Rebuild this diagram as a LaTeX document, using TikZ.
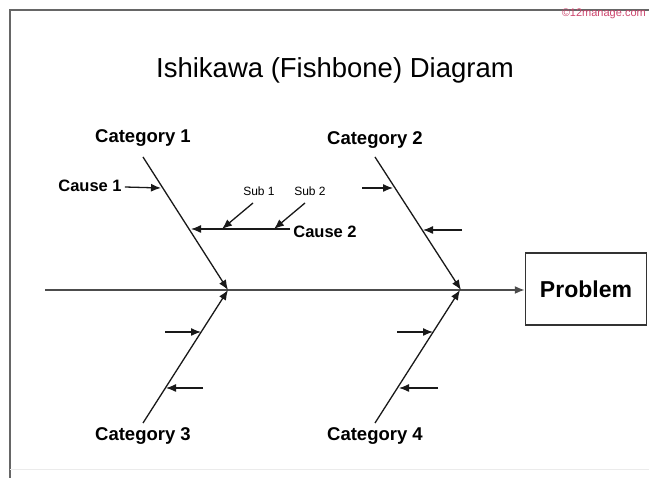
\documentclass[tikz,border=0pt]{standalone}
\usepackage{fontspec}
\setmainfont{Liberation Sans}
\usetikzlibrary{arrows.meta}
\definecolor{wm}{RGB}{205,70,110}
\begin{document}
\begin{tikzpicture}[x=1pt,y=-1pt,
  bone/.style={line width=1.3pt,draw=black!90,-{Latex[length=10pt,width=8pt]}},
  cat/.style={font=\bfseries\fontsize{18.5}{20}\selectfont,inner sep=0pt},
  cause/.style={font=\bfseries\fontsize{16.5}{18}\selectfont,inner sep=0pt},
  sub/.style={font=\fontsize{12}{14}\selectfont,inner sep=0pt}]
\useasboundingbox (0,0) rectangle (649,478);
\fill[white] (0,0) rectangle (649,478);
% frame
\draw[black!60,line width=2pt] (9.5,478) -- (9.5,10.5) -- (649,10.5);
\draw[black!8,line width=1pt] (10,470) -- (649,470);
% watermark and title
\node[font=\fontsize{11}{13}\selectfont,text=wm,inner sep=0pt,anchor=east] (wmark) at (646,14) {©12manage.com};
\node[font=\fontsize{27.5}{30}\selectfont,inner sep=0pt] (title) at (335,70) {Ishikawa (Fishbone) Diagram};
% problem and spine
\node[draw=black!80,line width=1.5pt,minimum width=121pt,minimum height=72pt,inner sep=0pt,
  font=\bfseries\fontsize{23}{26}\selectfont] (prob) at (586,289) {Problem};
\coordinate (tail) at (45,290);
\draw[bone,draw=black!70,line width=1.6pt] (tail) -- (tail -| prob.west);
% category 1
\node[cat] (c1) at (143,138) {Category 1};
\coordinate (c1s) at (143,157);
\coordinate (j1) at (228,290);
\draw[bone] (c1s) -- (j1);
\node[cause] (cause1) at (90,186) {Cause 1};
\coordinate (c1a) at (161,188);
\draw[bone] (cause1.east) ++(3,1) -- (c1a);
\node[cause] (cause2) at (325,232) {Cause 2};
\coordinate (c2e) at (191,229);
\draw[bone] (cause2.west) ++(-3,-3) -- (c2e);
\node[sub] (sub1) at (259,191) {Sub 1};
\node[sub] (sub2) at (310,191) {Sub 2};
\coordinate (s1e) at (222,229);
\coordinate (s2e) at (274,229);
\draw[bone] (253,203) -- (s1e);
\draw[bone] (305,203) -- (s2e);
% category 2
\node[cat] (c2) at (375,140) {Category 2};
\coordinate (c2s) at (375,157);
\coordinate (j2) at (461,290);
\draw[bone] (c2s) -- (j2);
\coordinate (a21) at (393,188);
\coordinate (a22) at (423,230);
\draw[bone] (362,188) -- (a21);
\draw[bone] (462,230) -- (a22);
% category 3
\node[cat] (c3) at (143,436) {Category 3};
\coordinate (c3s) at (143,423);
\coordinate (j3) at (228,290);
\draw[bone] (c3s) -- (j3);
\coordinate (a31) at (201,332);
\coordinate (a32) at (166,388);
\draw[bone] (165,332) -- (a31);
\draw[bone] (203,388) -- (a32);
% category 4
\node[cat] (c4) at (375,436) {Category 4};
\coordinate (c4s) at (375,423);
\coordinate (j4) at (460,290);
\draw[bone] (c4s) -- (j4);
\coordinate (a41) at (433,332);
\coordinate (a42) at (399,388);
\draw[bone] (397,332) -- (a41);
\draw[bone] (438,388) -- (a42);
\end{tikzpicture}
\end{document}
